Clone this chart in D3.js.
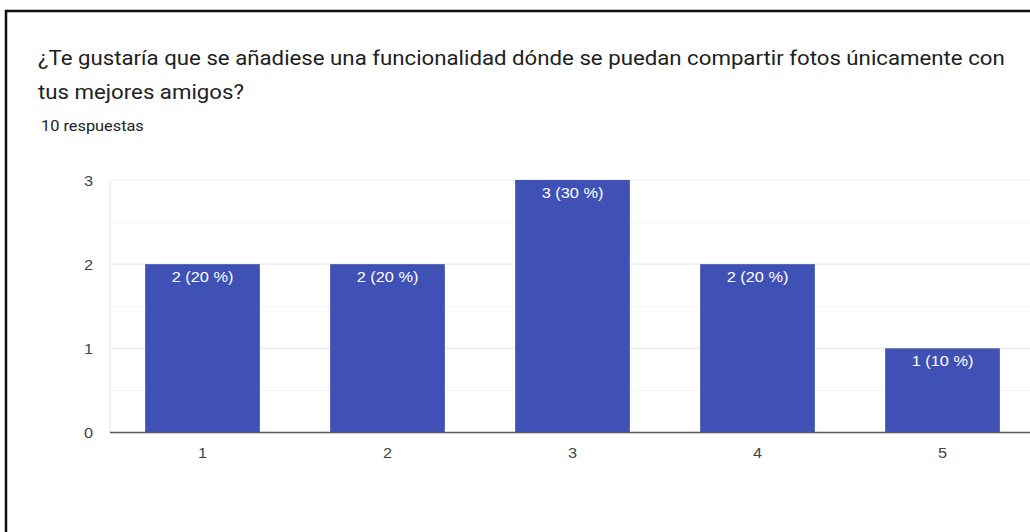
<!DOCTYPE html>
<html lang="es">
<head>
<meta charset="utf-8">
<script src="https://cdn.jsdelivr.net/npm/d3@7"></script>
<style>
  html, body { margin: 0; padding: 0; background: #fff; }
  svg { display: block; }
</style>
</head>
<body>
<svg id="chart" width="1030" height="532"></svg>
<script>
// Survey answers on a 1–5 scale
const categories = ["1", "2", "3", "4", "5"];
const counts = [2, 2, 3, 2, 1];
const yTicks = [0, 1, 2, 3];
const totalResponses = 10;
const titleLines = [
  "¿Te gustaría que se añadiese una funcionalidad dónde se puedan compartir fotos únicamente con",
  "tus mejores amigos?"
];
const subtitle = totalResponses + " respuestas";

// Text is slightly widened horizontally
const SX = 1.09;

const svg = d3.select("#chart");

// Card frame (top and left edges visible)
svg.append("path")
  .attr("d", "M6,532 V11 H1030")
  .attr("fill", "none")
  .attr("stroke", "#111")
  .attr("stroke-width", 2.5);

// Title and response count
const titleG = svg.append("g").attr("font-family", "Roboto, 'Noto Sans', sans-serif");
titleG.selectAll("text.title")
  .data(titleLines)
  .join("text")
  .attr("class", "title")
  .attr("transform", (d, i) => `translate(38,${64.5 + i * 34.5}) scale(${SX},1)`)
  .attr("font-size", 20.4)
  .attr("fill", "#202124")
  .text(d => d);
titleG.append("text")
  .attr("transform", `translate(41,131) scale(${SX},1)`)
  .attr("font-size", 15)
  .attr("fill", "#202124")
  .text(subtitle);

// Plot scales
const plot = { left: 110, right: 1035, top: 180, bottom: 432.5 };
const x = d3.scaleBand()
  .domain(categories)
  .range([plot.left, plot.right])
  .paddingInner(0.38)
  .paddingOuter(0.19);
const y = d3.scaleLinear()
  .domain([0, 3])
  .range([plot.bottom, plot.top]);

const font = "Arial, 'Liberation Sans', sans-serif";

// Minor gridlines at half steps
svg.append("g")
  .selectAll("line")
  .data([0.5, 1.5, 2.5])
  .join("line")
  .attr("x1", plot.left).attr("x2", 1030)
  .attr("y1", d => y(d)).attr("y2", d => y(d))
  .attr("stroke", "#f4f4f4")
  .attr("stroke-width", 1);

// Major gridlines
svg.append("g")
  .selectAll("line")
  .data(yTicks.filter(d => d > 0))
  .join("line")
  .attr("x1", plot.left).attr("x2", 1030)
  .attr("y1", d => y(d)).attr("y2", d => y(d))
  .attr("stroke", "#ebebeb")
  .attr("stroke-width", 1.2);

// Left vertical edge of the plot
svg.append("line")
  .attr("x1", plot.left).attr("x2", plot.left)
  .attr("y1", plot.top).attr("y2", plot.bottom)
  .attr("stroke", "#ebebeb")
  .attr("stroke-width", 1.2);

// Y axis labels
const yAxis = d3.axisLeft(y).tickValues(yTicks).tickFormat(d3.format("d")).tickSize(0);
svg.append("g")
  .attr("transform", `translate(${plot.left},0)`)
  .call(yAxis)
  .call(g => g.select(".domain").remove())
  .call(g => g.selectAll("text")
    .attr("x", 0)
    .attr("dy", "0.35em")
    .attr("transform", `translate(-17,0) scale(${SX},1)`)
    .attr("text-anchor", "end")
    .attr("font-family", font)
    .attr("font-size", 15)
    .attr("fill", "#444"));

// Bars
const rows = categories.map((c, i) => ({ c, v: counts[i] }));
svg.append("g")
  .selectAll("rect")
  .data(rows)
  .join("rect")
  .attr("x", d => x(d.c))
  .attr("y", d => y(d.v))
  .attr("width", x.bandwidth())
  .attr("height", d => y(0) - y(d.v))
  .attr("fill", "#3f51b5");

// Value labels inside bars
svg.append("g")
  .selectAll("text")
  .data(rows)
  .join("text")
  .attr("transform", d => `translate(${x(d.c) + x.bandwidth() / 2},${y(d.v) + 17.8}) scale(${SX},1)`)
  .attr("text-anchor", "middle")
  .attr("font-family", font)
  .attr("font-size", 15)
  .attr("fill", "#fff")
  .text(d => `${d.v} (${Math.round(d.v / totalResponses * 100)} %)`);

// X axis labels and baseline
const xAxis = d3.axisBottom(x).tickSize(0);
svg.append("g")
  .attr("transform", `translate(0,${plot.bottom})`)
  .call(xAxis)
  .call(g => g.select(".domain").remove())
  .call(g => g.selectAll("text")
    .attr("y", 0)
    .attr("dy", 0)
    .attr("transform", `translate(0,25.5) scale(${SX},1)`)
    .attr("font-family", font)
    .attr("font-size", 15)
    .attr("fill", "#444"));

svg.append("line")
  .attr("x1", plot.left).attr("x2", 1030)
  .attr("y1", plot.bottom).attr("y2", plot.bottom)
  .attr("stroke", "#5a5a5a")
  .attr("stroke-width", 1.6);
</script>
</body>
</html>
